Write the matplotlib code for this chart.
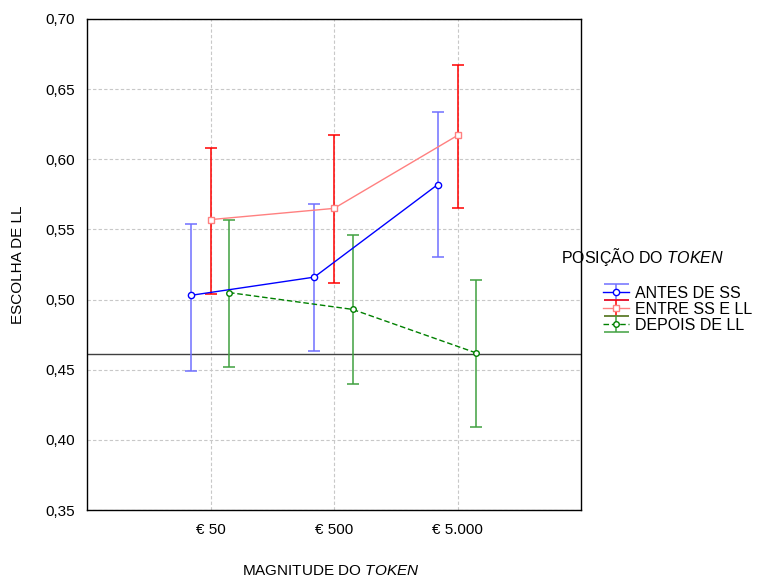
import matplotlib as mpl
mpl.use('Agg')
import matplotlib.pyplot as plt
import numpy as np

plt.rcParams['font.family'] = ['Liberation Sans', 'DejaVu Sans']
plt.rcParams['mathtext.fontset'] = 'custom'
plt.rcParams['mathtext.it'] = 'Liberation Sans:italic'
plt.rcParams['mathtext.rm'] = 'Liberation Sans'

categorias = ['€ 50', '€ 500', '€ 5.000']
series = ['ANTES DE SS', 'ENTRE SS E LL', 'DEPOIS DE LL']

antes = [0.503, 0.516, 0.582]
antes_sup = [0.554, 0.568, 0.634]
antes_inf = [0.449, 0.463, 0.530]

entre = [0.557, 0.565, 0.617]
entre_sup = [0.608, 0.617, 0.667]
entre_inf = [0.504, 0.512, 0.565]

depois = [0.505, 0.493, 0.462]
depois_sup = [0.557, 0.546, 0.514]
depois_inf = [0.452, 0.440, 0.409]

linha_ref = 0.461

fig = plt.figure(figsize=(7.81, 5.80), dpi=100)
ax = fig.add_axes([87/781, 1-510/580, 494/781, 491/580])

x = np.arange(1, 4)

def desenha(dx, y, sup, inf, cor_linha, cor_barra, marker, ls, ms, label):
    y = np.array(y); sup = np.array(sup); inf = np.array(inf)
    ax.errorbar(x + dx, y, yerr=[y - inf, sup - y], fmt='none', ecolor=cor_barra,
                elinewidth=1.1, capsize=4.5, capthick=1.1, zorder=3)
    ax.plot(x + dx, y, color=cor_linha, ls=ls, lw=1, marker=marker, ms=ms,
            mfc='white', mec=cor_linha, mew=1, zorder=4)
    # handle so para a legenda (ponto fora da vista)
    return ax.errorbar([np.nan], [np.nan], yerr=[[0.01], [0.01]], color=cor_linha,
                       ecolor=cor_barra, ls=ls, lw=1, marker=marker, ms=ms,
                       mfc='white', mec=cor_linha, capsize=9, elinewidth=1.1,
                       capthick=1.1, label=label)

h1 = desenha(-0.16, antes, antes_sup, antes_inf, '#0000ff', '#7070ff', 'o', '-', 4.5, series[0])
h2 = desenha(0.0, entre, entre_sup, entre_inf, '#ff8080', '#ff0000', 's', '-', 5, series[1])
h3 = desenha(0.15, depois, depois_sup, depois_inf, '#008000', '#40a040', 'o', (0, (4, 2)), 4, series[2])

ax.axhline(linha_ref, color='#404040', lw=1, zorder=2)

ax.set_xlim(0, 4)
ax.set_ylim(0.35, 0.70)
ax.set_xticks(x)
ax.set_xticklabels(categorias, fontsize=11)
yt = np.arange(0.35, 0.701, 0.05)
ax.set_yticks(yt)
ax.set_yticklabels([('%.2f' % v).replace('.', ',') for v in yt], fontsize=11)
ax.tick_params(length=0, pad=9)
ax.grid(True, color='#c8c8c8', ls=(0, (3, 2)), lw=0.8, zorder=0)
for s in ax.spines.values():
    s.set_linewidth(1)

ax.set_ylabel('ESCOLHA DE LL', fontsize=11, labelpad=14)
fig.text(331/781, 1-571/580, r'MAGNITUDE DO $\it{TOKEN}$', fontsize=11, ha='center', va='center')

fig.text(561/781, 1-257/580, r'POSIÇÃO DO $\it{TOKEN}$', fontsize=11.5, ha='left', va='center')
fig.legend(handles=[h1, h2, h3], loc='upper left', bbox_to_anchor=(603/781, 1-286/580),
           frameon=False, fontsize=11.5, handlelength=1.6, handletextpad=0.4,
           labelspacing=0.05, borderpad=0, borderaxespad=0)

fig.savefig('out.png', dpi=100)
